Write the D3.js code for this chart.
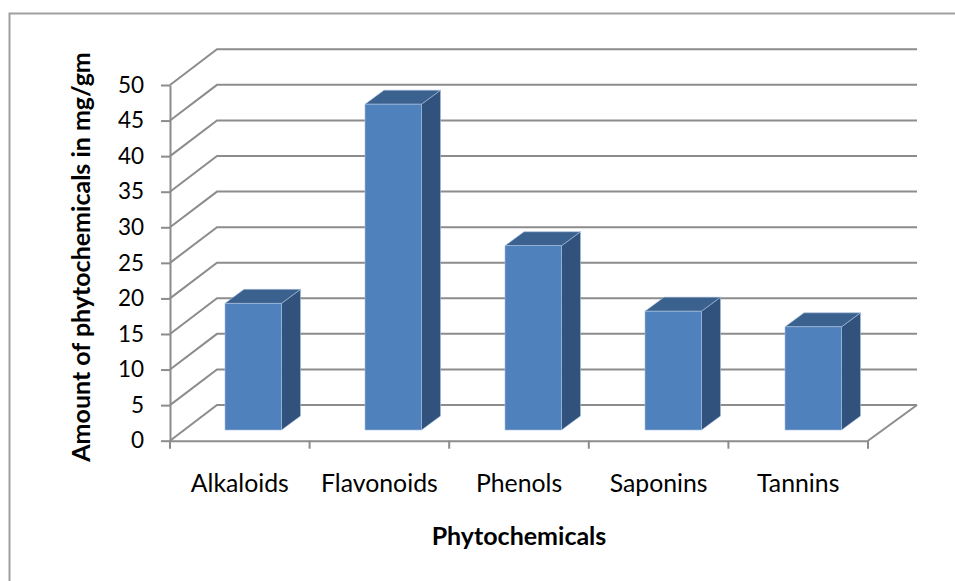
<!DOCTYPE html>
<html>
<head>
<meta charset="utf-8">
<script src="https://cdn.jsdelivr.net/npm/d3@7"></script>
<style>
  html, body { margin: 0; padding: 0; background: #fff; overflow: hidden; }
  svg { display: block; }
  text { font-family: Lato, "Open Sans", sans-serif; fill: #000; }
</style>
</head>
<body>
<svg id="chart" width="955" height="581"></svg>
<script>
// Values
const categories = ["Alkaloids", "Flavonoids", "Phenols", "Saponins", "Tannins"];
const amounts = [17.8, 45.8, 25.9, 16.7, 14.5];
const yTicks = d3.range(0, 55, 5);
const xTitle = "Phytochemicals";
const yTitle = "Amount of phytochemicals in mg/gm";

const gridColour = "#8c8c8c";
const frontColour = "#4f81bd";
const topColour = "#3b618e";
const sideColour = "#30527c";
const edgeColour = "#a8c0de";

const svg = d3.select("#chart");
const wallY = -35.7;      // floor depth
const barDepthX = 19, barDepthY = -14;
const barShiftY = -10.7;
const barWidth = 56.5;

// Front edge of the floor, back wall, and the row the bars stand on
const x = d3.scaleBand().domain(categories).range([170, 868]);
const xBack = d3.scaleBand().domain(categories).range([217, 917]);
const xBar = d3.scaleBand().domain(categories).range([183.25, 883.25]);
const y = d3.scaleLinear().domain([0, 50]).range([440.7, 85]);

// Frame: only the top and left edges fall inside the picture
svg.append("path")
  .attr("d", "M955,13.5H9.5V581")
  .attr("fill", "none").attr("stroke", "#a0a0a0").attr("stroke-width", 2);

// Gridlines along the side wall and back wall
const grid = svg.append("g").attr("fill", "none").attr("stroke", gridColour).attr("stroke-width", 2);
grid.selectAll("path")
  .data(yTicks)
  .join("path")
  .attr("d", d => `M${x.range()[0]},${y(d)}L${xBack.range()[0]},${y(d) + wallY}H${xBack.range()[1]}`);
// Floor right edge
grid.append("path")
  .attr("d", `M${x.range()[1]},${y(0)}L${xBack.range()[1]},${y(0) + wallY}`);

// Axes
const yAxis = svg.append("g").attr("transform", "translate(170,0)")
  .call(d3.axisLeft(y).tickValues(yTicks).tickSize(9).tickPadding(17).tickSizeOuter(0));
const xAxis = svg.append("g").attr("transform", "translate(0,440.7)")
  .call(d3.axisBottom(x).tickSize(0).tickPadding(34));
xAxis.selectAll(".edgeTick")
  .data(d3.range(categories.length + 1))
  .join("line")
  .attr("class", "edgeTick")
  .attr("x1", i => x.range()[0] + i * x.bandwidth())
  .attr("x2", i => x.range()[0] + i * x.bandwidth())
  .attr("y1", 0).attr("y2", 8);
[yAxis, xAxis].forEach(a => {
  a.selectAll("line").attr("stroke", gridColour).attr("stroke-width", 2);
  a.selectAll("path.domain").attr("stroke", gridColour).attr("stroke-width", 2);
});
yAxis.selectAll("text").attr("font-size", 22.5).style("font-family", "Lato");
xAxis.selectAll("text").attr("font-size", 24.8).style("font-family", "Lato");

// Bars: side, top, then front face
const bars = svg.selectAll("g.bar")
  .data(categories.map((c, i) => ({ c, v: amounts[i] })))
  .join("g").attr("class", "bar")
  .attr("stroke", edgeColour).attr("stroke-width", 0.6);
const barLeft = d => xBar(d.c) + xBar.bandwidth() / 2 - barWidth / 2;
const barBase = () => y(0) + barShiftY;
const barTop = d => y(d.v) + barShiftY;

bars.append("path").attr("fill", sideColour)
  .attr("d", d => {
    const r = barLeft(d) + barWidth;
    return `M${r},${barTop(d)}l${barDepthX},${barDepthY}V${barBase() + barDepthY}L${r},${barBase()}Z`;
  });
bars.append("path").attr("fill", topColour)
  .attr("d", d => `M${barLeft(d)},${barTop(d)}l${barDepthX},${barDepthY}h${barWidth}l${-barDepthX},${-barDepthY}Z`);
bars.append("rect").attr("fill", frontColour)
  .attr("x", barLeft).attr("y", barTop)
  .attr("width", barWidth).attr("height", d => barBase() - barTop(d));

// Titles
svg.append("text")
  .attr("x", 519).attr("y", 545)
  .attr("text-anchor", "middle")
  .attr("font-size", 25).attr("font-weight", 700)
  .text(xTitle);
svg.append("text")
  .attr("transform", "translate(90,257) rotate(-90)")
  .attr("text-anchor", "middle")
  .attr("font-size", 25).attr("font-weight", 700)
  .text(yTitle);
</script>
</body>
</html>
